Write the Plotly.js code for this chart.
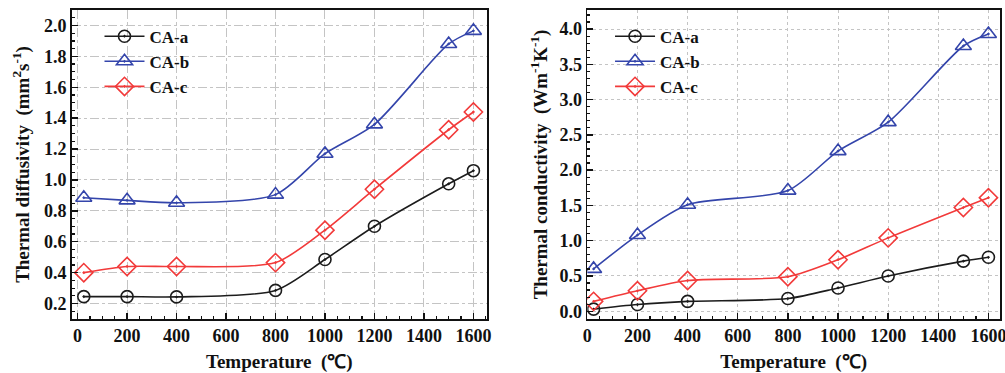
<!DOCTYPE html>
<html>
<head>
<meta charset="utf-8">
<script src="https://cdn.plot.ly/plotly-3.0.1.min.js"></script>
<style>html,body{margin:0;padding:0;background:#fff;}#chart{width:1005px;height:373px;}</style>
</head>
<body>
<div id="chart"></div>
<script>
// Temperatures (°C)
const temperature = [25, 200, 400, 800, 1000, 1200, 1500, 1600];
// Thermal diffusivity (mm^2 s^-1)
const diffA = [0.245, 0.245, 0.243, 0.285, 0.485, 0.70, 0.975, 1.06];
const diffB = [0.885, 0.868, 0.852, 0.905, 1.17, 1.36, 1.88, 1.965];
const diffC = [0.40, 0.44, 0.44, 0.465, 0.675, 0.94, 1.325, 1.44];
// Thermal conductivity (W m^-1 K^-1)
const condA = [0.03, 0.095, 0.14, 0.18, 0.33, 0.50, 0.71, 0.765];
const condB = [0.60, 1.08, 1.51, 1.71, 2.27, 2.68, 3.76, 3.93];
const condC = [0.14, 0.29, 0.435, 0.49, 0.73, 1.04, 1.47, 1.61];
const seriesNames = ['CA-a', 'CA-b', 'CA-c'];

const colors = ['#1c1c1c', '#3445ab', '#f23a3a'];
const symbols = ['circle-open-dot', 'triangle-up-open-dot', 'diamond-open-dot'];
const sizes = [12, 14, 14];
const FONT = 'Liberation Serif, Times New Roman, serif';

function mk(x, y, i, xa, ya, leg) {
  return {
    x: x, y: y, name: seriesNames[i], type: 'scatter', mode: 'lines+markers',
    xaxis: xa, yaxis: ya, legend: leg,
    line: {color: colors[i], width: 1.6, shape: 'spline', smoothing: 0.75},
    marker: {symbol: symbols[i], size: sizes[i], color: colors[i], line: {width: 1.6, color: colors[i]}}
  };
}
const data = [
  mk(temperature, diffA, 0, 'x', 'y', 'legend'),
  mk(temperature, diffB, 1, 'x', 'y', 'legend'),
  mk(temperature, diffC, 2, 'x', 'y', 'legend'),
  mk(temperature, condA, 0, 'x2', 'y2', 'legend2'),
  mk(temperature, condB, 1, 'x2', 'y2', 'legend2'),
  mk(temperature, condC, 2, 'x2', 'y2', 'legend2')
];

const tickfont = {family: FONT, size: 18, color: '#111', weight: 700};
const titlefont = {family: FONT, size: 19, color: '#111', weight: 700};
function ax(extra) {
  return Object.assign({
    showline: true, mirror: true, linecolor: '#111', linewidth: 1.6,
    ticks: 'inside', ticklen: 6, tickwidth: 1.4, tickcolor: '#111',
    tickfont: tickfont, zeroline: false, automargin: false,
    ticklabeloverflow: 'allow',
    gridcolor: '#c4c4c4', gridwidth: 1,
    minor: {ticks: 'inside', ticklen: 3, tickwidth: 1.2, tickcolor: '#111', showgrid: false}
  }, extra);
}

const layout = {
  width: 1005, height: 373,
  margin: {l: 0, r: 0, t: 10, b: 54},
  paper_bgcolor: '#fff', plot_bgcolor: '#fff',
  showlegend: true,
  xaxis: ax({domain: [0.0713, 0.4846], anchor: 'y', range: [-24, 1655], tick0: 0, dtick: 200,
    griddash: 'dashdot',
    title: {text: 'Temperature  (\u2103)', font: titlefont, standoff: 10}}),
  yaxis: ax({domain: [0, 1], anchor: 'x', range: [0.1, 2.1], tick0: 0.2, dtick: 0.2, tickformat: '.1f',
    griddash: 'dashdot',
    title: {text: 'Thermal diffusivity  (mm<sup>2</sup>s<sup>-1</sup>)', font: titlefont, standoff: 9}}),
  xaxis2: ax({domain: [0.5844, 0.995], anchor: 'y2', range: [0, 1646], tick0: 0, dtick: 200,
    griddash: 'dot',
    title: {text: 'Temperature  (\u2103)', font: titlefont, standoff: 10}}),
  yaxis2: ax({domain: [0, 1], anchor: 'x2', range: [-0.11, 4.27], tick0: 0, dtick: 0.5, tickformat: '.1f',
    griddash: 'dot',
    title: {text: 'Thermal conductivity  (Wm<sup>-1</sup>K<sup>-1</sup>)', font: titlefont, standoff: 7}}),
  legend: {x: 0.099, y: 0.972, xanchor: 'left', yanchor: 'top', bgcolor: 'rgba(0,0,0,0)',
    font: {family: FONT, size: 17, color: '#111', weight: 700}, tracegroupgap: 0, itemwidth: 40},
  legend2: {x: 0.607, y: 0.972, xanchor: 'left', yanchor: 'top', bgcolor: 'rgba(0,0,0,0)',
    font: {family: FONT, size: 17, color: '#111', weight: 700}, tracegroupgap: 0, itemwidth: 40}
};

Plotly.newPlot('chart', data, layout, {staticPlot: true, displayModeBar: false});
</script>
</body>
</html>
